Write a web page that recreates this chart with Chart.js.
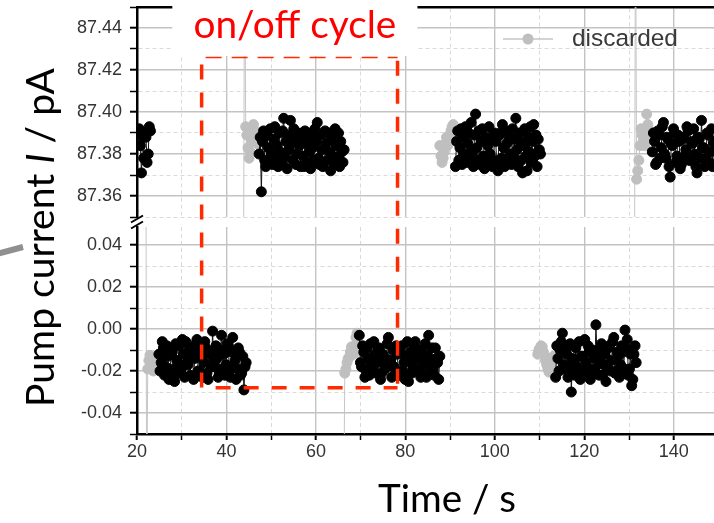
<!DOCTYPE html>
<html>
<head>
<meta charset="utf-8">
<script src="https://cdn.jsdelivr.net/npm/chart.js@4.4.1/dist/chart.umd.min.js"></script>
<style>
  html, body { margin: 0; padding: 0; background: #fff; overflow: hidden; }
  #wrap { position: relative; width: 714px; height: 523px; }
  #wrap canvas { position: absolute; left: 0; top: 0; }
</style>
</head>
<body>
<div id="wrap">
  <canvas id="lowPanel" width="714" height="523"></canvas>
  <canvas id="highPanel" width="714" height="523"></canvas>
</div>
<script>
// ---- measurement data (pump current in pA, time in s) ----
const SAMPLE_DT = 0.25;

// upper branch (pump on), ~87.38 pA
const highKeptStart = [20.5, 47.3, 91.2, 135.2];
const highKept1 = [87.392, 87.384, 87.371, 87.388, 87.378, 87.390, 87.388, 87.376, 87.380, 87.393, 87.391];
const highKept2 = [
  87.380, 87.388, 87.362, 87.386, 87.391, 87.377, 87.374, 87.389, 87.383, 87.376,
  87.392, 87.380, 87.375, 87.387, 87.393, 87.378, 87.384, 87.374, 87.390, 87.381,
  87.376, 87.391, 87.397, 87.379, 87.386, 87.373, 87.389, 87.382, 87.396, 87.385,
  87.377, 87.392, 87.388, 87.375, 87.380, 87.390, 87.384, 87.374, 87.387, 87.379,
  87.374, 87.391, 87.385, 87.376, 87.390, 87.381, 87.373, 87.388, 87.383, 87.377,
  87.392, 87.386, 87.395, 87.378, 87.375, 87.389, 87.382, 87.374, 87.376, 87.391,
  87.385, 87.377, 87.390, 87.381, 87.372, 87.388, 87.379, 87.375, 87.392, 87.384,
  87.378, 87.390, 87.374, 87.386, 87.381, 87.376, 87.382
];
const highKept3 = [
  87.374, 87.386, 87.391, 87.377, 87.383, 87.392, 87.375, 87.388, 87.380, 87.393,
  87.376, 87.385, 87.390, 87.378, 87.395, 87.381, 87.374, 87.389, 87.399, 87.383,
  87.377, 87.391, 87.375, 87.386, 87.392, 87.379, 87.373, 87.388, 87.376, 87.384,
  87.393, 87.380, 87.387, 87.374, 87.377, 87.390, 87.386, 87.375, 87.372, 87.389,
  87.390, 87.378, 87.394, 87.383, 87.374, 87.391, 87.385, 87.376, 87.388, 87.380,
  87.375, 87.392, 87.378, 87.387, 87.397, 87.382, 87.374, 87.390, 87.386, 87.377,
  87.371, 87.384, 87.392, 87.379, 87.372, 87.388, 87.381, 87.393, 87.376, 87.386,
  87.394, 87.379, 87.389, 87.374, 87.387, 87.382, 87.380
];
const highKept4 = [
  87.381, 87.390, 87.386, 87.375, 87.376, 87.391, 87.389, 87.378, 87.383, 87.393,
  87.395, 87.380, 87.378, 87.388, 87.387, 87.374, 87.369, 87.385, 87.384, 87.392,
  87.390, 87.376, 87.379, 87.389, 87.386, 87.373, 87.375, 87.387, 87.388, 87.379,
  87.382, 87.393, 87.391, 87.377, 87.377, 87.386, 87.385, 87.392, 87.380, 87.374,
  87.371, 87.388, 87.387, 87.378, 87.396, 87.383, 87.383, 87.374, 87.378, 87.390,
  87.389, 87.376, 87.381, 87.392, 87.374, 87.385, 87.386, 87.377, 87.383
];
const highDiscardStart = [43.8, 87.7, 131.2];
const highDiscarded2 = [87.30, 87.50, 87.393, 87.389, 87.383, 87.378, 87.381, 87.386, 87.390, 87.394, 87.391, 87.388, 87.385];
const highDiscarded3 = [87.384, 87.379, 87.376, 87.378, 87.381, 87.385, 87.388, 87.384, 87.386, 87.389, 87.391, 87.393, 87.394];
const highDiscarded4 = [87.30, 87.50, 87.368, 87.372, 87.377, 87.384, 87.392, 87.389, 87.386, 87.384, 87.392, 87.399, 87.394, 87.391, 87.388];

// lower branch (pump off), ~ -0.015 pA
const lowKeptStart = [24.9, 69.7, 113.6];
const lowKept1 = [
  -0.012, -0.020, -0.016, -0.006, -0.009, -0.022, -0.018, -0.008, -0.013, -0.024,
  -0.021, -0.010, -0.011, -0.019, -0.025, -0.007, -0.015, -0.021, -0.008, -0.017,
  -0.019, -0.005, -0.012, -0.023, -0.006, -0.016, -0.017, -0.009, -0.022, -0.013,
  -0.010, -0.024, -0.014, -0.007, -0.005, -0.020, -0.020, -0.011, -0.013, -0.023,
  -0.016, -0.006, -0.009, -0.021, -0.024, -0.012, -0.011, -0.018, -0.001, -0.015,
  -0.018, -0.008, -0.014, -0.023, -0.021, -0.010, -0.003, -0.019, -0.012, -0.022,
  -0.017, -0.007, -0.008, -0.020, -0.023, -0.011, -0.004, -0.018, -0.015, -0.024,
  -0.019, -0.009, -0.011, -0.022, -0.021, -0.013, -0.029, -0.018, -0.016
];
const lowKept2 = [
  -0.003, -0.016, -0.018, -0.008, -0.011, -0.023, -0.020, -0.009, -0.014, -0.022,
  -0.007, -0.017, -0.019, -0.006, -0.012, -0.021, -0.016, -0.010, -0.009, -0.024,
  -0.021, -0.012, -0.013, -0.019, -0.017, -0.007, -0.004, -0.015, -0.015, -0.023,
  -0.010, -0.018, -0.019, -0.008, -0.012, -0.022, -0.022, -0.011, -0.008, -0.020,
  -0.016, -0.024, -0.013, -0.006, -0.025, -0.014, -0.011, -0.021, -0.018, -0.008,
  -0.006, -0.019, -0.014, -0.010, -0.020, -0.023, -0.010, -0.016, -0.017, -0.007,
  -0.023, -0.013, -0.003, -0.021, -0.015, -0.009, -0.019, -0.022, -0.009, -0.014,
  -0.016, -0.024, -0.013
];
const lowKept3 = [
  -0.023, -0.008, -0.014, -0.020, -0.010, -0.006, -0.002, -0.019, -0.017, -0.009,
  -0.012, -0.023, -0.019, -0.007, -0.030, -0.014, -0.015, -0.022, -0.009, -0.018,
  -0.020, -0.006, -0.024, -0.013, -0.013, -0.021, -0.005, -0.016, -0.018, -0.008,
  -0.011, -0.024, -0.021, -0.010, -0.014, -0.019, 0.002, -0.013, -0.010, -0.022,
  -0.016, -0.007, -0.022, -0.017, -0.012, -0.025, -0.018, -0.009, -0.008, -0.020,
  -0.015, -0.006, -0.004, -0.021, -0.020, -0.011, -0.013, -0.023, -0.017, -0.008,
  -0.011, -0.019, -0.0005, -0.009, -0.005, -0.022, -0.019, -0.012, -0.027, -0.024,
  -0.012, -0.008, -0.016
];
const lowDiscardStart = [21.9, 66.2, 109.6];
const lowDiscarded1 = [0.20, -0.09, -0.019, -0.015, -0.0125, -0.016, -0.0185, -0.020, -0.0195, -0.017, -0.014];
const lowDiscarded2 = [-0.09, -0.021, -0.019, -0.016, -0.014, -0.0135, -0.011, -0.0085, -0.010, -0.012, -0.008, -0.004, -0.002];
const lowDiscarded3 = [-0.012, -0.010, -0.009, -0.008, -0.0085, -0.011, -0.013, -0.015, -0.017, -0.019, -0.0205, -0.020, -0.019, -0.016, -0.013];

// axis ranges and tick steps
const timeRange = [20, 149];
const highRange = [87.35, 87.45];
const lowRange = [-0.05, 0.0486];
const timeMinor = 10, timeMajor = 20;
const currentMinor = 0.01, currentMajor = 0.02;

// one on/off cycle marked on the plot
const cycleWindow = [34.45, 78.25];
const cycleHigh = 87.426;
const cycleLow = -0.028;

// ---- helpers ----
function toPoints(starts, segments) {
  const pts = [];
  segments.forEach((vals, k) => {
    const t0 = starts[k];
    if (k) pts.push({ x: t0 - SAMPLE_DT / 2, y: null });
    vals.forEach((v, i) => pts.push({ x: +(t0 + i * SAMPLE_DT).toFixed(3), y: v }));
  });
  return pts;
}
const onStep = (v, step) => Math.abs(v / step - Math.round(v / step)) < 1e-6;

const TICK_FONT = { family: 'Liberation Sans, Arial, sans-serif', size: 18 };

function gridFor(major, withTicks, tickLength) {
  return {
    color: c => (c.tick && onStep(c.tick.value, major)) ? '#c3c3c3' : '#dadada',
    lineWidth: c => (c.tick && onStep(c.tick.value, major)) ? 1.4 : 1,
    drawTicks: withTicks,
    tickLength: tickLength,
    tickColor: '#000',
    tickWidth: c => (c.tick && onStep(c.tick.value, major)) ? 2 : 1.5
  };
}
function borderFor(major) {
  return {
    color: '#000',
    width: 2.5,
    dash: c => (c.tick && !onStep(c.tick.value, major)) ? [4, 3] : []
  };
}
function keepSteps(minor) {
  return s => { s.ticks = s.ticks.filter(t => onStep(t.value, minor)); };
}
function fixSize(prop, size) {
  return s => {
    s[prop] = size;
    s.paddingTop = s.paddingBottom = s.paddingLeft = s.paddingRight = 0;
  };
}
function currentLabel(v) {
  if (!onStep(v, currentMajor)) return '';
  return Math.abs(v) < 1e-9 ? '0.00' : v.toFixed(2);
}

function yScale(range) {
  return {
    type: 'linear',
    min: range[0], max: range[1],
    afterBuildTicks: keepSteps(currentMinor),
    afterFit: fixSize('width', 137),
    grid: gridFor(currentMajor, true, 7),
    border: borderFor(currentMajor),
    ticks: {
      stepSize: currentMinor, autoSkip: false, includeBounds: false, padding: 8,
      color: '#333', font: TICK_FONT, callback: currentLabel
    }
  };
}
function xScale(position, labels) {
  return {
    type: 'linear', position,
    min: timeRange[0], max: timeRange[1],
    afterBuildTicks: keepSteps(timeMinor),
    afterFit: fixSize('height', labels ? 89 : 0),
    grid: gridFor(timeMajor, labels, 6),
    border: borderFor(timeMajor),
    ticks: {
      display: labels, stepSize: timeMinor, autoSkip: false, includeBounds: false,
      maxRotation: 0, padding: 1, color: '#333', font: TICK_FONT,
      callback: v => onStep(v, timeMajor) ? String(Math.round(v)) : ''
    }
  };
}

const keptStyle = {
  borderColor: '#111', borderWidth: 1,
  pointRadius: 5, pointBorderWidth: 1, pointHoverRadius: 5,
  pointBackgroundColor: '#000', pointBorderColor: '#000',
  spanGaps: false, tension: 0
};
const discardStyle = {
  borderColor: '#c6c6c6', borderWidth: 1,
  pointRadius: 5, pointBorderWidth: 1, pointHoverRadius: 5,
  pointBackgroundColor: '#bfbfbf', pointBorderColor: '#bfbfbf',
  spanGaps: false, tension: 0
};

function baseOptions(padding, scales) {
  return {
    responsive: false, animation: false, events: [],
    layout: { padding, autoPadding: false },
    plugins: { legend: { display: false }, tooltip: { enabled: false } },
    scales
  };
}

// ---- lower panel (pump off) with the time axis ----
const lowChart = new Chart(document.getElementById('lowPanel'), {
  type: 'line',
  data: {
    datasets: [
      Object.assign({ label: 'kept', data: toPoints(lowKeptStart, [lowKept1, lowKept2, lowKept3]) }, keptStyle),
      Object.assign({ label: 'discarded', data: toPoints(lowDiscardStart, [lowDiscarded1, lowDiscarded2, lowDiscarded3]) }, discardStyle)
    ]
  },
  options: baseOptions({ top: 227, bottom: 0, left: 0, right: 0 }, {
    x: xScale('bottom', true),
    y: yScale(lowRange)
  })
});

// ---- annotations drawn over both panels ----
function fitFont(ctx, text, style, family, width) {
  ctx.font = style + '100px ' + family;
  return 100 * width / ctx.measureText(text).width;
}

const overlay = {
  id: 'overlay',
  afterDraw(chart) {
    const ctx = chart.ctx;
    const xs = chart.scales.x, yHigh = chart.scales.y, yLow = lowChart.scales.y;
    const left = chart.chartArea.left;
    ctx.save();

    // axis break marks
    ctx.strokeStyle = '#000';
    ctx.lineWidth = 2;
    [yHigh.bottom + 2, yLow.top - 2].forEach(cy => {
      ctx.beginPath();
      ctx.moveTo(left - 6, cy + 3.5);
      ctx.lineTo(left + 6, cy - 3.5);
      ctx.stroke();
    });

    // dashed frame around one on/off cycle
    const x0 = xs.getPixelForValue(cycleWindow[0]);
    const x1 = xs.getPixelForValue(cycleWindow[1]);
    const yT = yHigh.getPixelForValue(cycleHigh);
    const yB = yLow.getPixelForValue(cycleLow);
    ctx.strokeStyle = '#ff2a00';
    ctx.lineWidth = 3.5;
    ctx.setLineDash([15, 13]);
    ctx.lineDashOffset = -4;
    ctx.beginPath(); ctx.moveTo(x0, yT + 3); ctx.lineTo(x0, yB); ctx.stroke();
    ctx.beginPath(); ctx.moveTo(x0 + 10, yB); ctx.lineTo(x1, yB); ctx.stroke();
    ctx.beginPath(); ctx.moveTo(x1, yB); ctx.lineTo(x1, yT); ctx.stroke();
    ctx.lineWidth = 1.5;
    ctx.setLineDash([16, 10]);
    ctx.beginPath(); ctx.moveTo(x0, yT); ctx.lineTo(x1, yT); ctx.stroke();
    ctx.setLineDash([]);

    // caption box
    const boxL = xs.getPixelForValue(27.9), boxR = xs.getPixelForValue(82.7);
    ctx.fillStyle = '#fff';
    ctx.fillRect(boxL, 0, boxR - boxL, yT - 1.5);
    const capSize = fitFont(ctx, 'on/off cycle', '', 'Lato', 203);
    ctx.font = capSize + 'px Lato';
    ctx.fillStyle = '#ff0000';
    ctx.textAlign = 'center';
    ctx.textBaseline = 'alphabetic';
    ctx.fillText('on/off cycle', (boxL + boxR) / 2, 38);

    // legend entry for discarded samples
    const lx = 528, ly = 39;
    ctx.strokeStyle = '#c6c6c6';
    ctx.lineWidth = 1.5;
    ctx.beginPath(); ctx.moveTo(lx - 25, ly); ctx.lineTo(lx + 25, ly); ctx.stroke();
    ctx.fillStyle = '#bfbfbf';
    ctx.beginPath(); ctx.arc(lx, ly, 5.5, 0, Math.PI * 2); ctx.fill();
    const legSize = fitFont(ctx, 'discarded', '', 'Liberation Sans', 106);
    ctx.font = legSize + 'px Liberation Sans';
    ctx.fillStyle = '#3a3a3a';
    ctx.textAlign = 'left';
    ctx.fillText('discarded', 572, 46);

    // x axis title
    const tSize = fitFont(ctx, 'Time / s', '', 'Lato', 138);
    ctx.font = tSize + 'px Lato';
    ctx.fillStyle = '#000';
    ctx.textAlign = 'center';
    ctx.fillText('Time / s', 447, 512);

    // y axis title (italic symbol I)
    const parts = [['Pump current ', ''], ['I', 'italic '], [' / pA', '']];
    let w100 = 0;
    parts.forEach(([s, st]) => { ctx.font = st + '100px Lato'; w100 += ctx.measureText(s).width; });
    const ySize = 100 * 339 / w100;
    let total = 0;
    parts.forEach(([s, st]) => { ctx.font = st + ySize + 'px Lato'; total += ctx.measureText(s).width; });
    ctx.translate(54, 237.5);
    ctx.rotate(-Math.PI / 2);
    ctx.textAlign = 'left';
    let px = -total / 2;
    parts.forEach(([s, st]) => {
      ctx.font = st + ySize + 'px Lato';
      ctx.fillText(s, px, 0);
      px += ctx.measureText(s).width;
    });
    ctx.setTransform(1, 0, 0, 1, 0, 0);

    // pointer stub at the left margin
    ctx.strokeStyle = '#8f8f8f';
    ctx.lineWidth = 6;
    ctx.beginPath(); ctx.moveTo(-3, 254); ctx.lineTo(23, 247); ctx.stroke();

    ctx.restore();
  }
};

// ---- upper panel (pump on) ----
const highChart = new Chart(document.getElementById('highPanel'), {
  type: 'line',
  data: {
    datasets: [
      Object.assign({ label: 'kept', data: toPoints(highKeptStart, [highKept1, highKept2, highKept3, highKept4]) }, keptStyle),
      Object.assign({ label: 'discarded', data: toPoints(highDiscardStart, [highDiscarded2, highDiscarded3, highDiscarded4]) }, discardStyle)
    ]
  },
  options: baseOptions({ top: 7, bottom: 306, left: 0, right: 0 }, {
    x: xScale('top', false),
    y: yScale(highRange)
  }),
  plugins: [overlay]
});
</script>
</body>
</html>
